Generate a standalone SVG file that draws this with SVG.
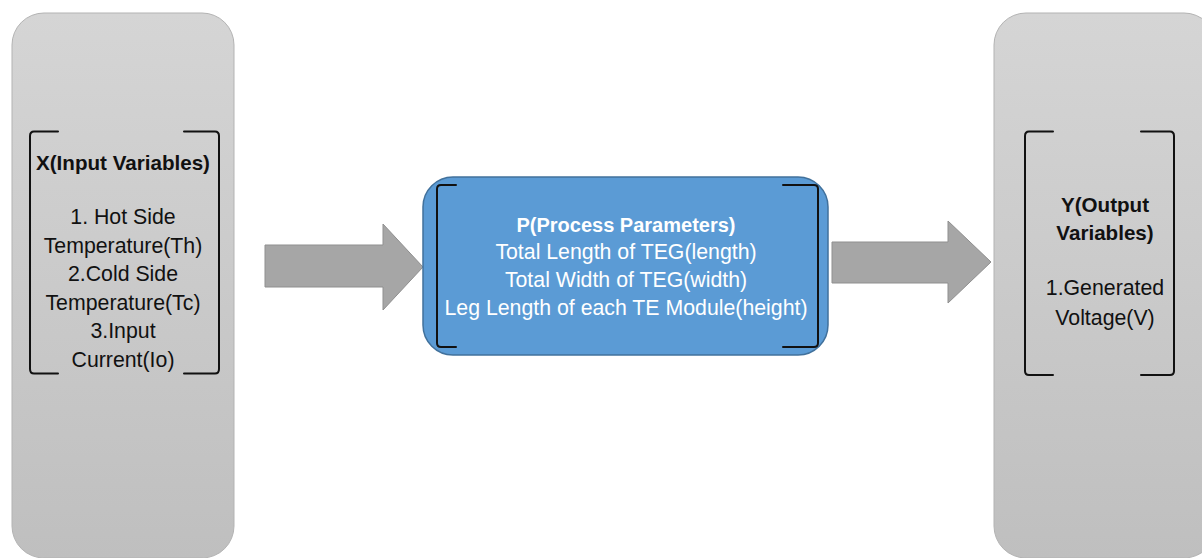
<svg xmlns="http://www.w3.org/2000/svg" width="1202" height="558" viewBox="0 0 1202 558">
<defs>
<linearGradient id="gray" x1="0" y1="0" x2="0" y2="1">
<stop offset="0" stop-color="#d5d5d5"/>
<stop offset="1" stop-color="#bfbfbf"/>
</linearGradient>
<style>
.panel{fill:url(#gray);stroke:#b3b3b3;stroke-width:1}
.proc{fill:#5b9bd5;stroke:#41719c;stroke-width:1.5}
.br{fill:none;stroke:#111;stroke-width:2;stroke-linecap:round}
.arrow{fill:#a6a6a6;stroke:#8f8f8f;stroke-width:1}
.t{font-family:"Liberation Sans",Arial,sans-serif;font-size:21.3px;text-anchor:middle;fill:#111}
.b{font-weight:bold;font-size:20.6px}
.w{fill:#ffffff}
.pb{font-size:20px}
</style>
</defs>
<rect width="1202" height="558" fill="#ffffff"/>
<g id="connectors">
<path class="arrow" d="M265,245 H383 V224 L423,267 L383,310 V287 H265 Z"/>
<path class="arrow" d="M832,242 H948 V221 L991,262 L948,303 V283 H832 Z"/>
</g>
<g id="input">
<rect class="panel" x="12" y="13" width="222" height="545" rx="32" ry="32"/>
<path class="br" d="M58,131.5 H34 Q30,131.5 30,136 V369 Q30,373.5 34,373.5 H58"/>
<path class="br" d="M184,131.5 H215 Q219,131.5 219,136 V369 Q219,373.5 215,373.5 H184"/>
<text class="t b" x="123" y="170">X(Input Variables)</text>
<text class="t" x="123" y="224">1. Hot Side</text>
<text class="t" x="123" y="253">Temperature(Th)</text>
<text class="t" x="123" y="281">2.Cold Side</text>
<text class="t" x="123" y="310">Temperature(Tc)</text>
<text class="t" x="123" y="338">3.Input</text>
<text class="t" x="123" y="367">Current(Io)</text>
</g>
<g id="process">
<rect class="proc" x="423" y="177" width="405" height="178" rx="30" ry="30"/>
<path class="br" d="M456,185 H441 Q437,185 437,189 V343 Q437,347 441,347 H456"/>
<path class="br" d="M783,185 H814 Q818,185 818,189 V343 Q818,347 814,347 H783"/>
<text class="t b w pb" x="626" y="232">P(Process Parameters)</text>
<text class="t w" x="626" y="259">Total Length of TEG(length)</text>
<text class="t w" x="626" y="287">Total Width of TEG(width)</text>
<text class="t w" x="626" y="315">Leg Length of each TE Module(height)</text>
</g>
<g id="output">
<rect class="panel" x="994" y="13" width="222" height="545" rx="32" ry="32"/>
<path class="br" d="M1053,131.5 H1029 Q1025,131.5 1025,136 V371 Q1025,375 1029,375 H1053"/>
<path class="br" d="M1141,131.5 H1170 Q1174,131.5 1174,136 V371 Q1174,375 1170,375 H1141"/>
<text class="t b" x="1105" y="212">Y(Output</text>
<text class="t b" x="1105" y="240">Variables)</text>
<text class="t" x="1105" y="295">1.Generated</text>
<text class="t" x="1105" y="325">Voltage(V)</text>
</g>
</svg>
